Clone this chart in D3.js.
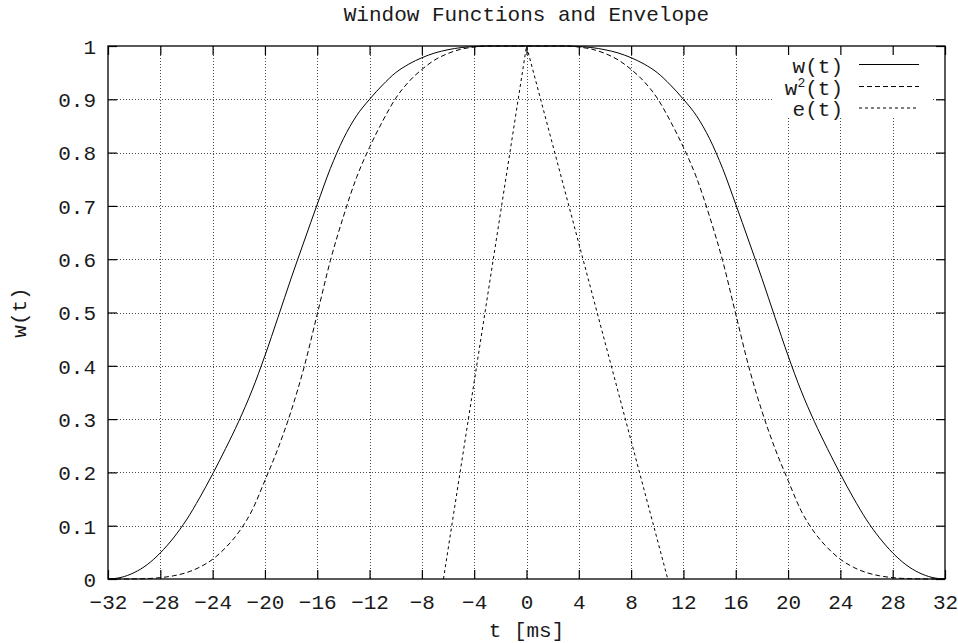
<!DOCTYPE html>
<html>
<head>
<meta charset="utf-8">
<script src="https://cdn.jsdelivr.net/npm/d3@7"></script>
<style>
  html, body { margin: 0; padding: 0; background: #fff; }
  svg { display: block; }
  text { font-family: "Liberation Mono", "DejaVu Sans Mono", monospace; font-size: 21px; fill: #1a1a1a; }
</style>
</head>
<body>
<svg id="chart" width="958" height="643"></svg>
<script>
// Sample times (ms) for the window curves, 1 ms apart
const tSamples = [
  -32, -31, -30, -29, -28, -27, -26, -25, -24, -23, -22, -21, -20, -19, -18, -17,
  -16, -15, -14, -13, -12, -11, -10, -9, -8, -7, -6, -5, -4, -3, -2, -1,
  0,
  1, 2, 3, 4, 5, 6, 7, 8, 9, 10, 11, 12, 13, 14, 15, 16,
  17, 18, 19, 20, 21, 22, 23, 24, 25, 26, 27, 28, 29, 30, 31, 32
];
// Window w(t)
const wValues = [
  0, 0.003, 0.012, 0.027, 0.049, 0.077, 0.111, 0.152, 0.197, 0.245, 0.296, 0.353, 0.419, 0.491, 0.564, 0.634,
  0.703, 0.770, 0.826, 0.869, 0.900, 0.927, 0.950, 0.966, 0.978, 0.987, 0.993, 0.997, 0.999, 1.0, 1.0, 1.0,
  1.0,
  1.0, 1.0, 1.0, 0.999, 0.997, 0.993, 0.987, 0.978, 0.966, 0.950, 0.927, 0.900, 0.869, 0.826, 0.770, 0.703,
  0.634, 0.564, 0.491, 0.419, 0.353, 0.296, 0.245, 0.197, 0.152, 0.111, 0.077, 0.049, 0.027, 0.012, 0.003, 0
];
// Squared window w^2(t)
const w2Values = [
  0, 0, 0.0002, 0.0008, 0.0025, 0.006, 0.012, 0.022, 0.037, 0.059, 0.088, 0.128, 0.185, 0.245, 0.315, 0.398,
  0.497, 0.597, 0.680, 0.753, 0.810, 0.859, 0.902, 0.933, 0.956, 0.974, 0.986, 0.994, 0.998, 1.0, 1.0, 1.0,
  1.0,
  1.0, 1.0, 1.0, 0.998, 0.994, 0.986, 0.974, 0.956, 0.933, 0.902, 0.859, 0.810, 0.753, 0.680, 0.597, 0.497,
  0.398, 0.315, 0.245, 0.185, 0.128, 0.088, 0.059, 0.037, 0.022, 0.012, 0.006, 0.0025, 0.0008, 0.0002, 0, 0
];
// Envelope e(t)
const envT = [-6.35, 0, 10.8];
const envValues = [0, 1, 0];

// Axis ticks
const xTicks = [-32, -28, -24, -20, -16, -12, -8, -4, 0, 4, 8, 12, 16, 20, 24, 28, 32];
const yTicks = [0, 0.1, 0.2, 0.3, 0.4, 0.5, 0.6, 0.7, 0.8, 0.9, 1];
const yTickLabels = ["0", "0.1", "0.2", "0.3", "0.4", "0.5", "0.6", "0.7", "0.8", "0.9", "1"];

// Text
const chartTitle = "Window Functions and Envelope";
const xTitle = "t [ms]";
const yTitle = "w(t)";

const svg = d3.select("#chart");
const plot = { left: 108, right: 945, top: 46, bottom: 579 };

const x = d3.scaleLinear().domain([-32, 32]).range([plot.left, plot.right]);
const y = d3.scaleLinear().domain([0, 1]).range([plot.bottom, plot.top]);

// Dotted grid
const grid = svg.append("g").attr("stroke", "#4a4a4a").attr("stroke-width", 1)
  .attr("stroke-dasharray", "1,2").attr("fill", "none");
grid.selectAll("line.gx").data(xTicks.slice(1, -1)).join("line")
  .attr("x1", d => Math.round(x(d)) + 0.5).attr("x2", d => Math.round(x(d)) + 0.5)
  .attr("y1", plot.top).attr("y2", plot.bottom);
grid.selectAll("line.gy").data(yTicks.slice(1, -1)).join("line")
  .attr("y1", d => Math.round(y(d)) + 0.5).attr("y2", d => Math.round(y(d)) + 0.5)
  .attr("x1", plot.left).attr("x2", plot.right);

// Opaque key background
svg.append("rect").attr("x", 772).attr("y", plot.top).attr("width", 160).attr("height", 72)
  .attr("fill", "#fff");

// Curves
const line = d3.line().x(d => x(d[0])).y(d => y(d[1])).curve(d3.curveMonotoneX);
const curves = svg.append("g").attr("fill", "none").attr("stroke", "#000").attr("stroke-width", 1);
curves.append("path").datum(d3.zip(tSamples, wValues)).attr("d", line);
curves.append("path").datum(d3.zip(tSamples, w2Values)).attr("d", line)
  .attr("stroke-dasharray", "5,3");
curves.append("path").datum(d3.zip(envT, envValues)).attr("d", d3.line().x(d => x(d[0])).y(d => y(d[1])))
  .attr("stroke-dasharray", "3,3");

// Axes with inward ticks, mirrored on top and right
const tick = 9;
const fmtX = d => (d < 0 ? "\u2212" + Math.abs(d) : String(d));
const fmtY = (d, i) => yTickLabels[i];

const gx = svg.append("g").attr("transform", `translate(0,${plot.bottom})`)
  .call(d3.axisBottom(x).tickValues(xTicks).tickFormat(fmtX).tickSizeInner(-tick).tickSizeOuter(0).tickPadding(14.6));
const gy = svg.append("g").attr("transform", `translate(${plot.left},0)`)
  .call(d3.axisLeft(y).tickValues(yTicks).tickFormat(fmtY).tickSizeInner(-tick).tickSizeOuter(0).tickPadding(12));
const gt = svg.append("g").attr("transform", `translate(0,${plot.top})`)
  .call(d3.axisTop(x).tickValues(xTicks).tickFormat("").tickSizeInner(-tick).tickSizeOuter(0));
const gr = svg.append("g").attr("transform", `translate(${plot.right},0)`)
  .call(d3.axisRight(y).tickValues(yTicks).tickFormat("").tickSizeInner(-tick).tickSizeOuter(0));

[gx, gy, gt, gr].forEach(g => {
  g.select(".domain").remove();
  g.selectAll(".tick line").attr("stroke", "#000").attr("stroke-width", 1.2);
  g.selectAll("text").attr("font-family", null).attr("font-size", null).attr("fill", "#1a1a1a");
});
gy.selectAll(".tick text").attr("dy", "0.35em");

// Border
svg.append("rect").attr("x", plot.left).attr("y", plot.top)
  .attr("width", plot.right - plot.left).attr("height", plot.bottom - plot.top)
  .attr("fill", "none").attr("stroke", "#000").attr("stroke-width", 1.3);

// Titles
svg.append("text").attr("x", (plot.left + plot.right) / 2).attr("y", 21)
  .attr("text-anchor", "middle").text(chartTitle);
svg.append("text").attr("x", (plot.left + plot.right) / 2).attr("y", 637)
  .attr("text-anchor", "middle").text(xTitle);
svg.append("text").attr("transform", `translate(26,${(plot.top + plot.bottom) / 2}) rotate(-90)`)
  .attr("text-anchor", "middle").text(yTitle);

// Key
const keyRows = [
  { dash: null, y: 64.5 },
  { dash: "5,3", y: 86.5 },
  { dash: "3,3", y: 108 }
];
const key = svg.append("g");
keyRows.forEach(r => {
  const ln = key.append("line").attr("x1", 859).attr("x2", 919).attr("y1", r.y).attr("y2", r.y)
    .attr("stroke", "#000").attr("stroke-width", 1);
  if (r.dash) ln.attr("stroke-dasharray", r.dash);
});
key.append("text").attr("x", 843).attr("y", 72.5).attr("text-anchor", "end").text("w(t)");
const k2 = key.append("text").attr("x", 843).attr("y", 94.5).attr("text-anchor", "end");
k2.append("tspan").text("w");
k2.append("tspan").attr("font-size", "13px").attr("dy", -8).text("2");
k2.append("tspan").attr("dy", 8).text("(t)");
key.append("text").attr("x", 843).attr("y", 116).attr("text-anchor", "end").text("e(t)");
</script>
</body>
</html>
